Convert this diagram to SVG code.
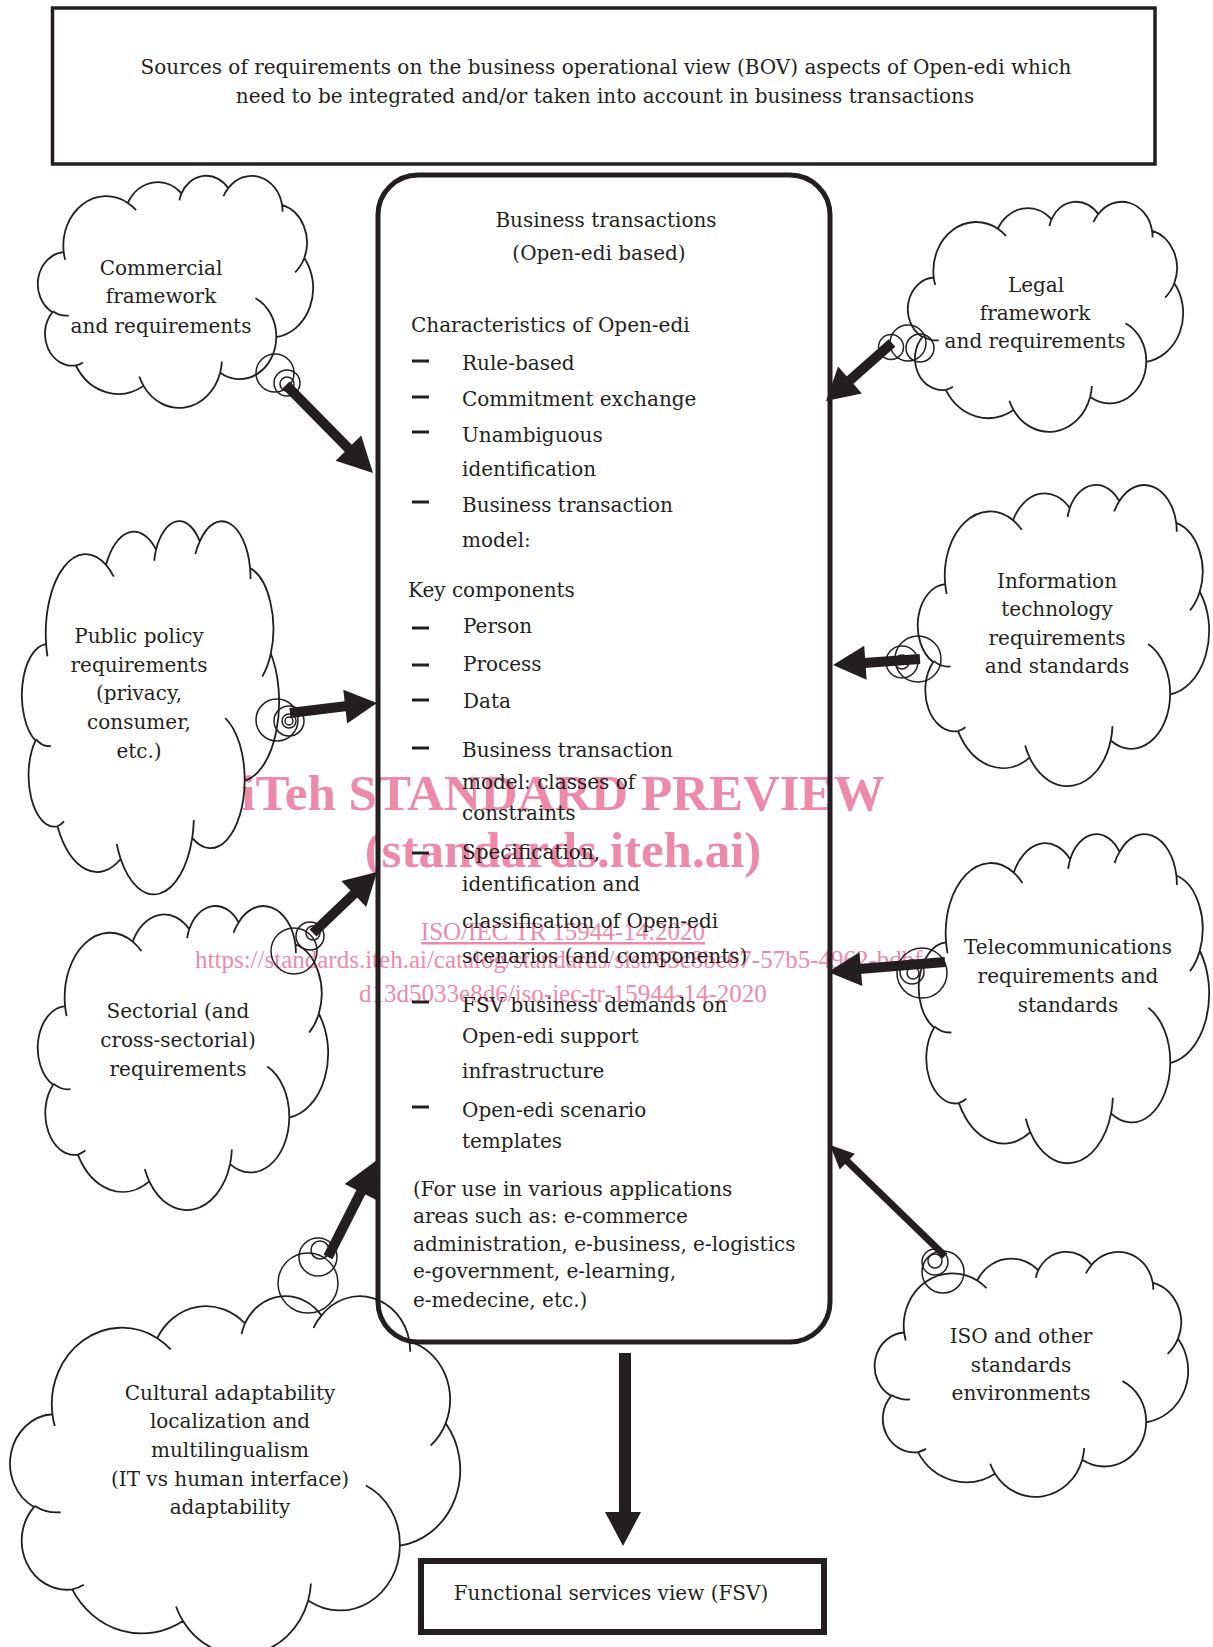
<svg xmlns="http://www.w3.org/2000/svg" xmlns:xlink="http://www.w3.org/1999/xlink" width="1213" height="1647" viewBox="0 0 1213 1647">
<defs>
<style>
.t{font-family:"DejaVu Serif",serif;font-size:20px;fill:#231f20}
.m{text-anchor:middle}
.cl{fill:none;stroke:#231f20;stroke-width:1.8;vector-effect:non-scaling-stroke}
.bub{fill:none;stroke:#231f20;stroke-width:1.5}
.shaft{stroke:#231f20;stroke-width:10;fill:none}
.head{fill:#231f20;stroke:none}
.dash{stroke:#231f20;stroke-width:3}
.wm{font-family:"Liberation Serif",serif;fill:#ee8aa9}
</style>
<path id="cloud" class="cl" d="M39,143.7 A67.53,91.9 0 0 1 140.06,52.03 A53.33,72.67 0 0 1 224.58,34.32 A43.65,59.45 0 0 1 298.35,24.8 A48.57,65.95 0 0 1 383.19,55.76 A53.33,72.73 0 0 1 418.2,154.6 A67.75,92.2 0 0 1 374.06,302.04 A57.85,78.67 0 0 1 285.58,368.15 A67.52,92.15 0 0 1 164.83,392.68 A77.2,105.43 0 0 1 58.06,354.72 A43.6,59.18 0 0 1 21.13,255.53 A43.45,59.45 0 0 1 39,143.7 Z M46.93,261.77 A43.45,59.45 0 0 1 21.6,253.8 M69.28,348.99 A43.6,59.18 0 0 1 58.06,354.72 M164.83,392.68 A67.52,92.15 0 0 1 158.15,375.26 M288.27,347.51 A67.52,92.15 0 0 1 285.58,368.15 M341.29,229.54 A57.85,78.67 0 0 1 374.06,302.04 M418.2,154.6 A53.33,72.73 0 0 1 403.71,181.36 M383.19,55.76 A48.57,65.95 0 0 1 383.96,68.4 M290.78,39.52 A48.57,65.95 0 0 1 298.35,24.8 M221.41,47.2 A43.65,59.45 0 0 1 224.58,34.32 M140.06,52.03 A67.53,91.9 0 0 1 153.05,65.52 M41.27,157.89 A67.53,91.9 0 0 1 39,143.7"/>
</defs>
<rect width="1213" height="1647" fill="#fff"/>

<g id="watermark">
<text class="wm m" x="563" y="810" font-size="51" font-weight="bold">iTeh STANDARD PREVIEW</text>
<text class="wm m" x="563" y="867" font-size="51" font-weight="bold">(standards.iteh.ai)</text>
<text class="wm m" x="563" y="940" font-size="25" text-decoration="underline">ISO/IEC TR 15944-14:2020</text>
<text class="wm m" x="563" y="968" font-size="25">https://standards.iteh.ai/catalog/standards/sist/65c8be67-57b5-4962-bdbf-</text>
<text class="wm m" x="563" y="1002" font-size="25">d13d5033e8d6/iso-iec-tr-15944-14-2020</text>
</g>

<g id="top-box">
<rect x="52.5" y="8" width="1102.5" height="156" fill="none" stroke="#231f20" stroke-width="3.5"/>
<text class="t m" x="606" y="74">Sources of requirements on the business operational view (BOV) aspects of Open-edi which</text>
<text class="t m" x="605" y="103">need to be integrated and/or taken into account in business transactions</text>
</g>

<g id="bt-box">
<rect x="378" y="175" width="452" height="1167" rx="40" ry="40" fill="none" stroke="#231f20" stroke-width="5"/>
<text class="t m" x="606" y="227">Business transactions</text>
<text class="t m" x="599" y="260">(Open-edi based)</text>
<text class="t" x="411" y="332">Characteristics of Open-edi</text>
<line class="dash" x1="412" y1="361" x2="429" y2="361"/>
<text class="t" x="462" y="370">Rule-based</text>
<line class="dash" x1="412" y1="397" x2="429" y2="397"/>
<text class="t" x="462" y="406">Commitment exchange</text>
<line class="dash" x1="412" y1="432" x2="429" y2="432"/>
<text class="t" x="462" y="442">Unambiguous</text>
<text class="t" x="462" y="476">identification</text>
<line class="dash" x1="412" y1="502" x2="429" y2="502"/>
<text class="t" x="462" y="512">Business transaction</text>
<text class="t" x="462" y="547">model:</text>
<text class="t" x="408" y="597">Key components</text>
<line class="dash" x1="412" y1="628" x2="429" y2="628"/>
<text class="t" x="463" y="633">Person</text>
<line class="dash" x1="412" y1="665" x2="429" y2="665"/>
<text class="t" x="463" y="671">Process</text>
<line class="dash" x1="412" y1="700" x2="429" y2="700"/>
<text class="t" x="463" y="708">Data</text>
<line class="dash" x1="412" y1="748" x2="429" y2="748"/>
<text class="t" x="462" y="757">Business transaction</text>
<text class="t" x="462" y="789">model: classes of</text>
<text class="t" x="462" y="820">constraints</text>
<line class="dash" x1="412" y1="853" x2="429" y2="853"/>
<text class="t" x="462" y="859">Specification,</text>
<text class="t" x="462" y="891">identification and</text>
<text class="t" x="462" y="928">classification of Open-edi</text>
<text class="t" x="462" y="963">scenarios (and components)</text>
<line class="dash" x1="412" y1="1002" x2="429" y2="1002"/>
<text class="t" x="462" y="1012">FSV business demands on</text>
<text class="t" x="462" y="1043">Open-edi support</text>
<text class="t" x="462" y="1078">infrastructure</text>
<line class="dash" x1="412" y1="1107" x2="429" y2="1107"/>
<text class="t" x="462" y="1117">Open-edi scenario</text>
<text class="t" x="462" y="1148">templates</text>
<text class="t" x="413" y="1196">(For use in various applications</text>
<text class="t" x="413" y="1223">areas such as: e-commerce</text>
<text class="t" x="413" y="1251">administration, e-business, e-logistics</text>
<text class="t" x="413" y="1278">e-government, e-learning,</text>
<text class="t" x="413" y="1307">e-medecine, etc.)</text>
</g>

<g id="fsv-box">
<rect x="421" y="1561" width="403" height="71" fill="none" stroke="#231f20" stroke-width="6"/>
<text class="t m" x="611" y="1600">Functional services view (FSV)</text>
</g>

<g id="cloud-commercial">
<use xlink:href="#cloud" href="#cloud" transform="translate(39,175) scale(0.6343,0.537)"/>
<circle class="bub" cx="275" cy="373" r="19"/>
<circle class="bub" cx="287" cy="383" r="13"/>
<circle class="bub" cx="287" cy="384" r="7"/>
<text class="t m" x="161" y="275">Commercial</text>
<text class="t m" x="161" y="303">framework</text>
<text class="t m" x="161" y="333">and requirements</text>
</g>

<g id="cloud-legal">
<use xlink:href="#cloud" href="#cloud" transform="translate(909,201) scale(0.6343,0.5324)"/>
<circle class="bub" cx="908" cy="343" r="18"/>
<circle class="bub" cx="891" cy="347" r="12.5"/>
<circle class="bub" cx="920" cy="348" r="14"/>
<text class="t m" x="1036" y="292">Legal</text>
<text class="t m" x="1035" y="320">framework</text>
<text class="t m" x="1035" y="348">and requirements</text>
</g>

<g id="cloud-public-policy">
<use xlink:href="#cloud" href="#cloud" transform="translate(23,520) scale(0.5926,0.8634)"/>
<circle class="bub" cx="277" cy="720" r="21"/>
<circle class="bub" cx="289" cy="721" r="15"/>
<circle class="bub" cx="289" cy="721" r="7"/>
<circle class="bub" cx="289" cy="721" r="4"/>
<text class="t m" x="139" y="643">Public policy</text>
<text class="t m" x="139" y="672">requirements</text>
<text class="t m" x="139" y="700">(privacy,</text>
<text class="t m" x="139" y="729">consumer,</text>
<text class="t m" x="139" y="758">etc.)</text>
</g>

<g id="cloud-information-technology">
<use xlink:href="#cloud" href="#cloud" transform="translate(919,484) scale(0.6713,0.6968)"/>
<circle class="bub" cx="918" cy="659" r="23"/>
<circle class="bub" cx="902" cy="662" r="16"/>
<circle class="bub" cx="902" cy="662" r="7"/>
<text class="t m" x="1057" y="588">Information</text>
<text class="t m" x="1057" y="616">technology</text>
<text class="t m" x="1057" y="645">requirements</text>
<text class="t m" x="1057" y="673">and standards</text>
</g>

<g id="cloud-telecommunications">
<use xlink:href="#cloud" href="#cloud" transform="translate(920,833) scale(0.669,0.7616)"/>
<circle class="bub" cx="922" cy="973" r="25"/>
<circle class="bub" cx="912" cy="972" r="12"/>
<circle class="bub" cx="913" cy="973" r="6"/>
<text class="t m" x="1068" y="954">Telecommunications</text>
<text class="t m" x="1068" y="983">requirements and</text>
<text class="t m" x="1068" y="1012">standards</text>
</g>

<g id="cloud-sectorial">
<use xlink:href="#cloud" href="#cloud" transform="translate(39,905) scale(0.669,0.7037)"/>
<circle class="bub" cx="294" cy="951" r="23"/>
<circle class="bub" cx="310" cy="936" r="14"/>
<circle class="bub" cx="313" cy="933" r="7"/>
<text class="t m" x="178" y="1018">Sectorial (and</text>
<text class="t m" x="178" y="1047">cross-sectorial)</text>
<text class="t m" x="178" y="1076">requirements</text>
</g>

<g id="cloud-iso">
<use xlink:href="#cloud" href="#cloud" transform="translate(876,1251) scale(0.7222,0.567)"/>
<circle class="bub" cx="943" cy="1272" r="21"/>
<circle class="bub" cx="935" cy="1262" r="13"/>
<circle class="bub" cx="935" cy="1261" r="7"/>
<text class="t m" x="1021" y="1343">ISO and other</text>
<text class="t m" x="1021" y="1372">standards</text>
<text class="t m" x="1021" y="1400">environments</text>
</g>

<g id="cloud-cultural">
<use xlink:href="#cloud" href="#cloud" transform="translate(12,1295) scale(1.037,0.83)"/>
<circle class="bub" cx="318" cy="1257" r="19"/>
<circle class="bub" cx="308" cy="1283" r="30"/>
<circle class="bub" cx="320" cy="1250" r="9"/>
<text class="t m" x="230" y="1400">Cultural adaptability</text>
<text class="t m" x="230" y="1428">localization and</text>
<text class="t m" x="230" y="1457">multilingualism</text>
<text class="t m" x="230" y="1486">(IT vs human interface)</text>
<text class="t m" x="230" y="1514">adaptability</text>
</g>

<g id="connectors">
<line class="shaft" x1="286" y1="385" x2="350" y2="450"/>
<polygon class="head" points="373,473 335.6,460.8 361.2,435.5"/>
<line class="shaft" x1="892" y1="343" x2="849" y2="381"/>
<polygon class="head" points="826,401 838.1,366.4 861.9,393.4"/>
<line class="shaft" x1="290" y1="713" x2="347" y2="706"/>
<polygon class="head" points="377,703 343.3,689.7 347.1,723.5"/>
<line class="shaft" x1="920" y1="659" x2="864" y2="663"/>
<polygon class="head" points="833,665 864.2,645.8 866.6,679.8"/>
<line class="shaft" x1="945" y1="962" x2="859" y2="969"/>
<polygon class="head" points="828,972 859.5,952.3 862.3,986.1"/>
<line class="shaft" x1="313" y1="933" x2="356" y2="892"/>
<polygon class="head" points="377,872 341.4,881.1 366.2,907.1"/>
<line class="shaft" x1="328" y1="1257" x2="362" y2="1190"/>
<polygon class="head" points="377,1160 344.7,1184 376.9,1200.2"/>
<line class="shaft" x1="945" y1="1256" x2="846" y2="1160" style="stroke-width:7"/>
<polygon class="head" points="830,1145 854.9,1153.8 839.7,1169.6"/>
<line class="shaft" x1="625" y1="1353" x2="625" y2="1514" style="stroke-width:12"/>
<polygon class="head" points="605,1512 641,1512 623,1546"/>
</g>
</svg>
